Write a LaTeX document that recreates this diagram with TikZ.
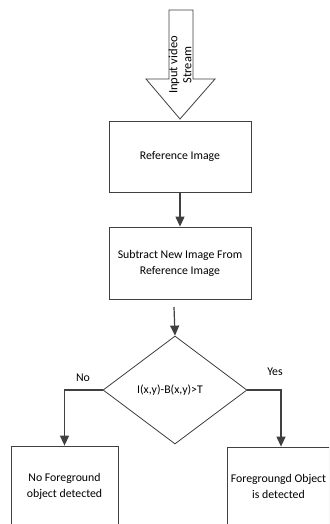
\documentclass[tikz,border=0pt]{standalone}
\usepackage{fontspec}
\setmainfont{Carlito}
\usetikzlibrary{shapes.geometric,arrows.meta,shadows}
\definecolor{ln}{HTML}{404040}
\begin{document}
\begin{tikzpicture}[x=1pt,y=-1pt,
  box/.style={draw=ln,line width=0.8pt,fill=white,rectangle,inner sep=0pt,align=center,font=\fontsize{11.8}{16}\selectfont,
    drop shadow={shadow xshift=1.2pt,shadow yshift=-1.2pt,fill=black!25,opacity=1}},
  dec/.style={draw=ln,line width=0.8pt,fill=white,diamond,inner sep=0pt,minimum width=144pt,minimum height=108pt},
  conn/.style={draw=ln,line width=1.2pt,-{Triangle[length=10pt,width=9pt]}},
  txt/.style={font=\fontsize{11.8}{16}\selectfont,text=black,inner sep=0pt,align=center}]
\clip (0,0) rectangle (329,524);
\fill[white] (0,0) rectangle (329,524);
% input arrow
\draw[ln,line width=0.8pt,fill=white] (169,10) -- (193,10) -- (193,79) -- (215,79) -- (180,119) -- (146,79) -- (169,79) -- cycle;
\node[rotate=90,txt,font=\fontsize{12.5}{14}\selectfont] (inp) at (180,65) {Input video\\Stream};
\node[box,minimum width=142pt,minimum height=71pt] (ref) at (180,156.5) {Reference Image};
\node[box,minimum width=142pt,minimum height=72pt] (sub) at (180,263) {Subtract New Image From\\Reference Image};
\node[dec] (dia) at (175,390) {};
\node[txt] (diatxt) at (170,390) {I(x,y)-B(x,y)>T};
\node[box,minimum width=107pt,minimum height=80pt] (no) at (64.5,486) {No Foreground\\object detected};
\node[box,minimum width=108pt,minimum height=80pt] (yes) at (281,487) {};
\node[txt] (yestxt) at (278.5,486) {Foregroungd Object\\is detected};
\coordinate (s1) at (174,307);
\draw[conn] (ref.south) -- (sub.north);
\draw[conn] (s1) -- (dia.north);
\draw[conn] (dia.west) -| (no.north);
\draw[conn] (dia.east) -| (yes.north);
\node[txt] (nolbl) at (83,378) {No};
\node[txt] (yeslbl) at (275,372) {Yes};
\end{tikzpicture}
\end{document}
